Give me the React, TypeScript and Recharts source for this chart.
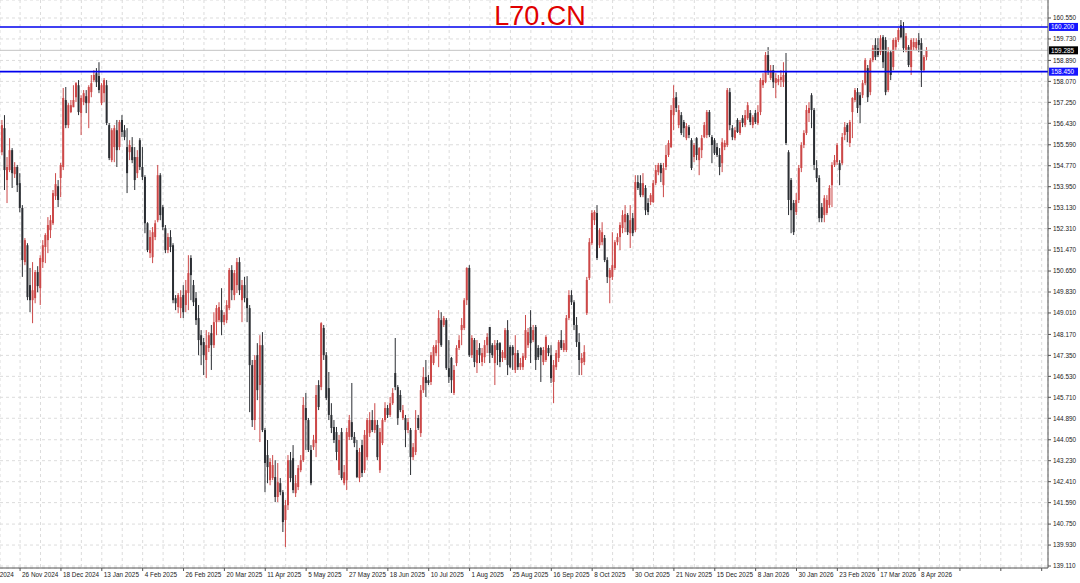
import { Bar, CartesianGrid, ComposedChart, ReferenceLine, XAxis, YAxis } from "recharts";

// daily OHLC, oldest first
const opens = [
  155.30, 156.24, 154.21, 154.60, 155.38, 154.44, 154.72, 154.09, 153.12, 151.00,
  151.66, 150.10, 149.51, 149.59, 150.61, 149.98, 151.00, 151.59, 151.86, 152.25,
  152.52, 153.58, 153.97, 154.29, 154.72, 157.34, 156.36, 156.87, 157.06, 157.45,
  157.92, 156.83, 157.26, 157.49, 157.22, 157.65, 158.12, 158.39, 158.28, 157.22,
  157.61, 157.92, 156.36, 154.99, 155.50, 156.16, 155.50, 156.56, 156.16, 155.50,
  155.30, 155.50, 155.11, 154.48, 155.77, 154.72, 154.33, 152.52, 151.35, 151.19,
  151.98, 152.64, 154.40, 153.15, 152.33, 151.47, 151.98, 151.66, 149.59, 149.24,
  149.20, 149.71, 149.32, 149.79, 151.16, 150.10, 149.59, 148.81, 148.14, 147.87,
  147.17, 147.64, 148.22, 147.75, 148.65, 148.73, 149.12, 148.65, 148.73, 149.20,
  150.69, 149.71, 150.10, 151.00, 149.51, 150.10, 149.59, 149.20, 146.97, 144.82,
  147.36, 146.19, 147.75, 144.43, 143.45, 142.47, 142.55, 142.59, 141.81, 142.35,
  142.00, 140.91, 141.49, 143.25, 143.33, 141.96, 142.20, 142.86, 143.25, 145.29,
  144.82, 143.65, 143.76, 143.92, 146.19, 146.11, 148.42, 147.36, 146.07, 145.02,
  144.55, 144.35, 142.86, 144.35, 142.35, 142.47, 144.16, 144.74, 144.16, 143.65,
  142.55, 143.84, 142.86, 143.37, 144.31, 144.82, 144.43, 144.63, 142.86, 143.92,
  144.82, 145.29, 145.02, 145.48, 146.66, 146.11, 145.80, 144.90, 144.90, 144.43,
  144.43, 143.37, 143.57, 144.90, 144.31, 145.99, 146.50, 146.38, 146.31, 147.05,
  147.44, 147.83, 148.73, 148.54, 148.73, 146.85, 147.25, 145.88, 147.05, 147.64,
  148.34, 148.42, 149.51, 150.77, 147.36, 147.95, 147.05, 147.64, 147.09, 147.28,
  147.75, 148.46, 147.75, 147.05, 147.83, 147.83, 147.25, 147.25, 148.34, 147.68,
  147.68, 146.78, 147.44, 146.89, 146.89, 147.25, 147.75, 148.46, 147.95, 148.46,
  147.64, 147.64, 147.09, 147.17, 147.64, 147.36, 146.31, 146.89, 147.25, 147.95,
  147.56, 147.56, 148.81, 149.71, 149.43, 148.54, 147.87, 147.05, 147.09, 149.00,
  150.38, 151.74, 152.64, 152.92, 151.66, 151.78, 151.94, 151.08, 150.38, 150.42,
  150.77, 151.78, 151.98, 152.33, 152.56, 152.84, 152.13, 152.72, 152.25, 154.13,
  154.09, 153.62, 153.90, 153.31, 153.35, 153.35, 154.09, 154.52, 154.80, 154.01,
  154.72, 155.19, 155.50, 156.75, 157.45, 156.36, 156.75, 156.48, 155.85, 156.28,
  155.77, 155.11, 155.85, 154.99, 155.38, 155.89, 155.97, 156.87, 155.89, 155.77,
  155.50, 155.19, 154.87, 155.50, 155.58, 157.65, 156.24, 155.85, 156.56, 156.05,
  156.63, 156.36, 156.63, 156.83, 156.36, 156.83, 156.44, 156.87, 157.92, 158.04,
  159.10, 158.20, 158.51, 158.00, 158.04, 158.12, 158.04, 158.43, 155.30, 154.21,
  153.31, 152.96, 153.43, 154.68, 155.58, 156.05, 156.83, 157.53, 156.95, 154.68,
  154.29, 153.15, 152.84, 152.92, 153.23, 154.01, 154.80, 154.91, 154.87, 154.87,
  155.97, 156.36, 155.66, 156.87, 157.34, 157.65, 157.53, 157.53, 158.00, 158.59,
  157.65, 158.90, 159.49, 159.37, 159.21, 159.80, 159.69, 157.73, 159.21, 158.63,
  159.41, 159.69, 160.27, 160.16, 159.29, 159.41, 158.63, 159.41, 159.37, 159.69,
  159.57, 158.51, 159.02,
];

const highs = [
  156.56, 156.75, 155.11, 155.85, 155.46, 154.91, 154.80, 154.48, 153.23, 151.94,
  151.74, 150.77, 151.00, 150.69, 150.84, 151.27, 151.86, 152.13, 152.76, 152.84,
  153.82, 154.48, 154.21, 154.88, 157.81, 157.85, 157.22, 157.34, 157.92, 158.04,
  158.12, 157.53, 157.73, 157.73, 157.92, 158.32, 158.51, 158.59, 158.82, 158.00,
  158.20, 158.12, 156.44, 156.24, 156.36, 156.56, 156.56, 156.75, 156.36, 156.24,
  155.77, 155.89, 155.50, 155.38, 155.85, 155.50, 154.40, 152.56, 152.25, 152.37,
  152.64, 154.80, 154.48, 153.23, 152.45, 152.13, 152.25, 151.74, 149.71, 149.79,
  149.90, 150.10, 150.30, 151.27, 151.27, 150.30, 149.83, 149.32, 148.34, 148.03,
  148.34, 148.26, 148.54, 149.04, 149.32, 149.43, 149.98, 149.04, 149.51, 150.77,
  150.88, 150.69, 151.16, 151.19, 150.30, 150.42, 150.45, 149.32, 147.17, 147.36,
  147.83, 148.14, 148.26, 144.51, 144.04, 143.33, 143.45, 143.25, 143.14, 142.55,
  142.08, 141.69, 143.45, 143.57, 143.84, 142.67, 143.06, 143.45, 145.72, 145.88,
  144.90, 143.84, 144.24, 146.19, 146.38, 148.65, 148.54, 147.48, 146.70, 145.48,
  144.82, 144.55, 144.24, 144.51, 143.06, 144.51, 145.02, 146.27, 144.35, 144.04,
  143.73, 144.04, 144.43, 144.90, 145.13, 145.21, 145.48, 144.82, 144.51, 144.90,
  145.52, 145.41, 145.72, 146.07, 148.03, 146.19, 145.99, 145.41, 145.02, 144.90,
  144.51, 143.92, 145.21, 145.02, 146.19, 146.89, 147.17, 146.58, 147.48, 147.75,
  147.95, 149.12, 149.04, 148.89, 148.81, 147.95, 147.29, 146.97, 147.75, 148.14,
  148.81, 149.59, 150.80, 150.88, 148.14, 148.03, 147.95, 147.83, 147.64, 147.95,
  148.22, 148.46, 147.83, 147.95, 147.95, 147.87, 147.56, 148.42, 148.73, 147.75,
  147.75, 148.14, 147.56, 147.25, 147.44, 148.93, 148.42, 149.12, 148.54, 148.54,
  147.75, 147.68, 147.68, 148.14, 147.75, 147.75, 147.17, 147.56, 147.95, 148.34,
  147.95, 148.93, 149.90, 149.90, 149.51, 148.85, 148.22, 147.44, 147.75, 150.42,
  151.94, 153.03, 153.03, 153.23, 152.33, 152.56, 152.06, 151.19, 150.77, 152.17,
  151.86, 152.13, 152.56, 153.03, 153.23, 152.92, 153.23, 152.92, 154.40, 154.40,
  154.40, 154.48, 154.01, 153.50, 153.70, 154.21, 154.80, 154.88, 154.88, 154.88,
  155.58, 155.77, 157.14, 157.92, 157.65, 157.14, 156.87, 156.56, 156.44, 156.36,
  155.85, 155.66, 155.89, 155.50, 155.97, 156.48, 156.95, 156.95, 155.97, 155.85,
  155.66, 155.46, 155.85, 155.77, 157.81, 157.81, 156.36, 156.28, 156.63, 156.56,
  156.75, 156.95, 157.26, 156.95, 156.75, 156.95, 157.14, 158.20, 158.39, 159.22,
  159.41, 158.71, 158.71, 158.39, 158.32, 158.51, 158.82, 159.18, 155.38, 154.29,
  153.43, 153.70, 154.80, 155.69, 156.16, 157.14, 157.26, 157.61, 157.03, 154.99,
  154.40, 153.31, 153.62, 153.62, 154.01, 154.91, 155.19, 155.66, 154.99, 156.05,
  156.48, 156.44, 156.56, 157.45, 157.81, 157.81, 157.65, 158.12, 158.98, 158.71,
  158.98, 159.49, 159.76, 159.76, 159.88, 159.88, 159.80, 159.41, 159.29, 159.76,
  159.80, 160.16, 160.47, 160.39, 159.96, 159.49, 159.76, 159.76, 159.76, 159.96,
  159.76, 159.10, 159.41,
];

const lows = [
  155.18, 153.82, 153.31, 154.52, 153.90, 154.29, 153.74, 152.95, 150.42, 150.88,
  149.51, 149.04, 148.61, 149.39, 149.82, 149.32, 150.77, 150.96, 151.35, 151.94,
  152.45, 153.43, 153.15, 153.54, 154.60, 156.24, 156.24, 156.83, 157.06, 157.26,
  156.75, 155.97, 157.14, 156.83, 156.24, 157.45, 158.04, 157.85, 157.61, 157.14,
  157.26, 156.36, 154.99, 154.91, 154.91, 154.72, 155.38, 155.89, 155.77, 153.70,
  154.99, 154.87, 153.82, 154.29, 154.60, 154.21, 152.13, 151.39, 151.16, 150.96,
  151.86, 152.56, 152.64, 152.25, 151.35, 151.35, 151.39, 149.39, 149.12, 149.00,
  148.81, 148.81, 149.04, 149.12, 149.51, 149.28, 148.54, 147.36, 146.97, 146.58,
  146.46, 147.48, 146.78, 147.64, 148.14, 148.65, 148.14, 148.54, 148.61, 149.12,
  149.51, 149.51, 149.79, 149.71, 148.65, 149.43, 148.65, 145.13, 144.55, 144.43,
  145.60, 143.96, 144.35, 142.00, 142.35, 142.27, 142.47, 141.61, 141.61, 141.88,
  140.44, 139.85, 141.30, 142.39, 141.96, 141.81, 142.08, 142.78, 143.18, 143.65,
  143.57, 142.27, 143.65, 143.37, 145.21, 145.99, 147.17, 145.60, 144.82, 144.31,
  143.92, 143.25, 142.67, 142.47, 142.27, 142.08, 144.04, 144.04, 143.76, 142.55,
  142.39, 142.59, 142.75, 143.25, 144.16, 144.35, 144.31, 143.25, 142.75, 143.84,
  144.74, 144.90, 144.94, 145.41, 145.99, 144.63, 145.13, 144.82, 143.76, 144.31,
  142.67, 143.25, 143.45, 144.43, 144.16, 145.88, 145.72, 146.19, 146.19, 146.97,
  147.32, 146.89, 147.68, 148.46, 146.78, 146.27, 145.88, 145.80, 146.93, 147.56,
  147.75, 148.34, 149.32, 147.29, 147.25, 146.89, 146.66, 147.05, 146.93, 147.05,
  147.44, 147.05, 147.25, 146.19, 146.97, 146.89, 147.09, 147.17, 146.58, 146.85,
  146.78, 146.66, 146.78, 146.78, 146.78, 147.17, 147.64, 147.05, 147.87, 146.78,
  147.17, 146.31, 146.97, 147.09, 147.32, 146.27, 145.48, 146.78, 147.09, 147.56,
  147.48, 147.48, 148.73, 149.32, 148.34, 147.68, 146.58, 146.58, 146.97, 148.93,
  150.30, 151.66, 152.45, 151.08, 151.55, 151.66, 151.00, 150.18, 149.39, 150.30,
  150.69, 151.66, 151.47, 152.13, 152.17, 152.06, 151.55, 152.02, 152.17, 153.82,
  153.54, 153.54, 152.84, 152.84, 153.23, 153.31, 154.01, 154.40, 154.13, 153.54,
  154.60, 155.11, 155.46, 156.16, 156.87, 156.24, 155.97, 155.89, 155.77, 155.85,
  154.60, 154.91, 154.99, 154.40, 155.07, 155.85, 155.85, 155.89, 154.87, 155.19,
  155.11, 154.40, 154.52, 155.38, 155.50, 156.16, 155.77, 155.77, 156.05, 155.97,
  156.28, 156.28, 156.56, 156.36, 156.24, 156.40, 156.36, 156.75, 157.81, 158.00,
  158.32, 158.12, 157.81, 157.42, 157.92, 157.85, 157.85, 155.58, 152.84, 152.13,
  152.06, 152.84, 153.31, 154.52, 155.46, 155.97, 156.48, 156.24, 154.60, 154.13,
  152.56, 152.56, 152.56, 152.84, 153.12, 153.15, 154.72, 154.80, 154.01, 154.80,
  155.77, 155.69, 155.50, 155.85, 157.26, 156.83, 156.44, 157.42, 157.92, 157.26,
  157.53, 158.82, 158.90, 159.02, 159.10, 158.59, 157.53, 157.65, 158.12, 158.51,
  159.29, 159.61, 159.76, 159.21, 159.21, 158.63, 158.32, 159.29, 159.29, 159.21,
  157.85, 158.43, 158.90,
];

const closes = [
  156.36, 154.60, 154.72, 155.38, 154.48, 154.72, 154.01, 153.12, 151.08, 151.86,
  149.63, 149.51, 149.90, 150.61, 150.06, 151.16, 151.66, 152.06, 152.45, 152.64,
  153.70, 154.05, 153.43, 154.80, 157.42, 156.36, 157.14, 157.14, 157.34, 158.00,
  156.87, 157.42, 157.61, 157.22, 157.85, 158.00, 158.32, 158.04, 157.73, 157.92,
  158.12, 156.44, 155.07, 156.16, 156.24, 155.38, 156.48, 156.09, 155.89, 154.48,
  155.58, 154.99, 154.21, 155.11, 154.72, 154.33, 152.52, 151.47, 151.98, 152.17,
  152.52, 154.40, 152.84, 152.37, 151.47, 151.98, 151.59, 149.51, 149.39, 149.71,
  149.63, 149.04, 149.90, 150.57, 150.49, 149.43, 148.73, 147.95, 147.75, 147.36,
  147.75, 148.14, 147.75, 148.65, 149.20, 149.24, 148.65, 148.93, 149.32, 150.69,
  149.90, 150.57, 151.00, 149.90, 150.10, 149.59, 149.20, 146.97, 144.82, 147.17,
  145.99, 147.75, 144.43, 143.14, 142.98, 143.18, 143.06, 141.81, 142.39, 142.00,
  140.83, 141.49, 143.25, 142.55, 142.08, 142.35, 142.94, 143.25, 145.41, 144.82,
  143.65, 142.35, 144.04, 145.80, 145.33, 148.61, 147.36, 145.68, 145.02, 144.51,
  144.04, 143.57, 144.04, 142.55, 142.78, 144.35, 144.82, 144.16, 143.92, 142.59,
  143.57, 142.75, 144.24, 144.82, 144.82, 144.43, 144.82, 143.37, 144.35, 144.82,
  145.29, 145.02, 145.48, 145.88, 146.11, 144.90, 145.21, 145.21, 144.43, 144.74,
  143.37, 143.76, 144.43, 144.51, 145.99, 146.50, 146.27, 146.27, 147.36, 147.68,
  147.75, 148.81, 147.75, 148.81, 146.85, 146.50, 146.38, 146.78, 147.64, 147.95,
  148.54, 149.51, 150.77, 147.36, 148.03, 147.09, 147.56, 147.36, 147.44, 147.75,
  148.07, 147.44, 147.36, 147.75, 147.56, 147.09, 147.48, 148.34, 146.97, 146.89,
  147.36, 147.44, 146.89, 147.05, 147.32, 148.34, 148.26, 147.83, 148.34, 147.17,
  147.28, 147.36, 147.56, 148.07, 147.44, 146.46, 146.97, 147.44, 147.87, 147.64,
  147.83, 148.81, 149.71, 149.43, 148.54, 147.87, 147.17, 147.25, 147.48, 150.30,
  151.78, 152.92, 152.96, 151.16, 152.25, 152.17, 151.08, 150.42, 150.69, 150.88,
  151.78, 151.98, 152.45, 152.84, 152.88, 152.17, 152.64, 152.13, 154.13, 153.90,
  153.62, 154.09, 153.03, 152.96, 153.62, 154.09, 154.60, 154.80, 154.48, 154.68,
  155.19, 155.66, 156.95, 157.42, 157.03, 156.95, 156.05, 156.24, 156.32, 155.97,
  154.68, 155.58, 155.19, 155.46, 155.85, 156.36, 156.87, 155.97, 155.58, 155.26,
  155.19, 154.72, 155.69, 155.66, 157.73, 156.36, 155.89, 156.16, 156.09, 156.48,
  156.44, 156.75, 157.14, 156.48, 156.67, 156.48, 156.87, 158.12, 158.12, 159.10,
  158.43, 158.51, 158.04, 158.20, 158.16, 158.24, 158.32, 155.66, 153.43, 153.03,
  152.17, 153.43, 154.68, 155.58, 156.05, 156.95, 157.03, 156.95, 154.80, 154.29,
  152.72, 152.72, 153.50, 153.43, 153.90, 154.80, 154.99, 155.58, 154.60, 155.89,
  156.28, 156.09, 156.48, 157.42, 157.73, 157.03, 157.14, 158.00, 158.90, 157.45,
  158.90, 159.37, 159.02, 159.10, 159.76, 158.82, 157.65, 159.21, 158.32, 159.69,
  159.69, 160.08, 159.80, 159.37, 159.84, 158.71, 159.69, 159.61, 159.61, 159.49,
  158.51, 159.02, 159.285,
];

// one date label every 16 bars, the first one sits 9 bars before the first candle
const dateLabels = [
  "4 Nov 2024", "26 Nov 2024", "18 Dec 2024", "13 Jan 2025", "4 Feb 2025", "26 Feb 2025",
  "20 Mar 2025", "11 Apr 2025", "5 May 2025", "27 May 2025", "18 Jun 2025", "10 Jul 2025",
  "1 Aug 2025", "25 Aug 2025", "16 Sep 2025", "8 Oct 2025", "30 Oct 2025", "21 Nov 2025",
  "15 Dec 2025", "8 Jan 2026", "30 Jan 2026", "23 Feb 2026", "17 Mar 2026", "8 Apr 2026",
];

const priceTicks = [
  160.55, 159.73, 158.89, 158.07, 157.25, 156.43, 155.59, 154.77, 153.95, 153.13,
  152.31, 151.47, 150.65, 149.83, 149.01, 148.17, 147.35, 146.53, 145.71, 144.89,
  144.05, 143.23, 142.41, 141.59, 140.75, 139.93, 139.11,
];

const resistance = 160.2;
const support = 158.45;
const lastPrice = 159.285;

const UP = "#cc4848";
const DOWN = "#2b2e33";
const TEXT = "#222";
const FONT = "'Liberation Sans', Arial, sans-serif";

const W = 1080;
const H = 583;
const Y_AXIS_W = 32;
const X_AXIS_H = 15;
const PLOT_W = W - Y_AXIS_W;
const BAR_STEP = 2.554;
const FIRST_BAR_X = 2.2;
const X_DOMAIN: [number, number] = [-FIRST_BAR_X / BAR_STEP, (PLOT_W - FIRST_BAR_X) / BAR_STEP];
const Y_DOMAIN: [number, number] = [139.032, 161.254];
const FIRST_LABEL_BAR = -9;
const LABEL_EVERY = 16;
const GRID_EVERY = 8;

const rows = closes.map((c, i) => ({
  i,
  open: opens[i],
  high: highs[i],
  low: lows[i],
  close: c,
  range: [lows[i], highs[i]],
}));

const gridTicks: number[] = [];
for (let t = FIRST_LABEL_BAR; t <= X_DOMAIN[1]; t += GRID_EVERY) {
  if (t >= X_DOMAIN[0]) gridTicks.push(t);
}

function Candle(props: any) {
  const { x, y, width, height, payload } = props;
  if (!payload) return null;
  const { open, close, high, low } = payload;
  const cx = x + width / 2;
  const top = Math.min(y, y + height);
  const h = Math.abs(height);
  const span = high - low || 1;
  const py = (v: number) => top + ((high - v) / span) * h;
  const color = close >= open ? UP : DOWN;
  const bTop = py(Math.max(open, close));
  const bBot = py(Math.min(open, close));
  return (
    <g>
      <line x1={cx} x2={cx} y1={top} y2={top + h} stroke={color} strokeWidth={1} />
      <rect x={cx - 1} y={bTop} width={2} height={Math.max(bBot - bTop, 1)} fill={color} />
    </g>
  );
}

function DateTick({ x, y, payload }: any) {
  const k = (payload.value - FIRST_LABEL_BAR) / LABEL_EVERY;
  if (!Number.isInteger(k)) return <g />;
  const items: [number, string][] = [[x, dateLabels[k]]];
  // the label left of the first visible tick is cut by the chart edge
  if (k === 1) items.push([x - LABEL_EVERY * BAR_STEP, dateLabels[0]]);
  return (
    <g>
      {items.map(([tx, label]) => (
        <g key={label}>
          <line x1={tx} x2={tx} y1={y} y2={y + 3} stroke="#555" />
          <text x={tx + 2} y={y + 9} fontSize={6.4} fill={TEXT} fontFamily={FONT}>
            {label}
          </text>
        </g>
      ))}
    </g>
  );
}

function PriceTag({ viewBox, value, bg }: any) {
  if (!viewBox) return null;
  const x = viewBox.x + viewBox.width + 1;
  const y = viewBox.y;
  return (
    <g>
      <rect x={x} y={y - 4} width={29} height={8} fill={bg} />
      <text x={x + 2} y={y + 2.4} fontSize={6.4} fill="#fff" fontFamily={FONT}>
        {value.toFixed(3)}
      </text>
    </g>
  );
}

export default function App() {
  return (
    <div style={{ position: "relative", width: W, height: H, background: "#fff" }}>
      <style>{"body{margin:0}"}</style>
      <ComposedChart width={W} height={H} data={rows} margin={{ top: 0, right: 0, bottom: 0, left: 0 }}>
        <CartesianGrid stroke="#dcdcdc" strokeDasharray="3 3" />
        <XAxis
          type="number"
          dataKey="i"
          domain={X_DOMAIN}
          allowDataOverflow
          ticks={gridTicks}
          interval={0}
          height={X_AXIS_H}
          tickSize={0}
          tickMargin={0}
          tickLine={false}
          axisLine={{ stroke: "#555" }}
          tick={<DateTick />}
        />
        <YAxis
          orientation="right"
          domain={Y_DOMAIN}
          allowDataOverflow
          ticks={priceTicks}
          interval={0}
          width={Y_AXIS_W}
          tickSize={3}
          tickMargin={2}
          axisLine={{ stroke: "#555" }}
          tickLine={{ stroke: "#555" }}
          tick={{ fontSize: 6.4, fill: TEXT, fontFamily: FONT }}
          tickFormatter={(v: number) => v.toFixed(3)}
        />
        <Bar dataKey="range" barSize={2} shape={<Candle />} isAnimationActive={false} />
        <ReferenceLine
          y={lastPrice}
          stroke="#c4c4c4"
          strokeWidth={1}
          label={(p: any) => <PriceTag {...p} value={lastPrice} bg="#000" />}
        />
        <ReferenceLine
          y={resistance}
          stroke="#0000ee"
          strokeWidth={1.6}
          label={(p: any) => <PriceTag {...p} value={resistance} bg="#1414ff" />}
        />
        <ReferenceLine
          y={support}
          stroke="#0000ee"
          strokeWidth={1.6}
          label={(p: any) => <PriceTag {...p} value={support} bg="#1414ff" />}
        />
      </ComposedChart>
      <div
        style={{
          position: "absolute",
          left: 0,
          top: 3,
          width: W,
          textAlign: "center",
          fontFamily: FONT,
          fontSize: 27,
          lineHeight: "27px",
          color: "#e00000",
          pointerEvents: "none",
        }}
      >
        L70.CN
      </div>
    </div>
  );
}
